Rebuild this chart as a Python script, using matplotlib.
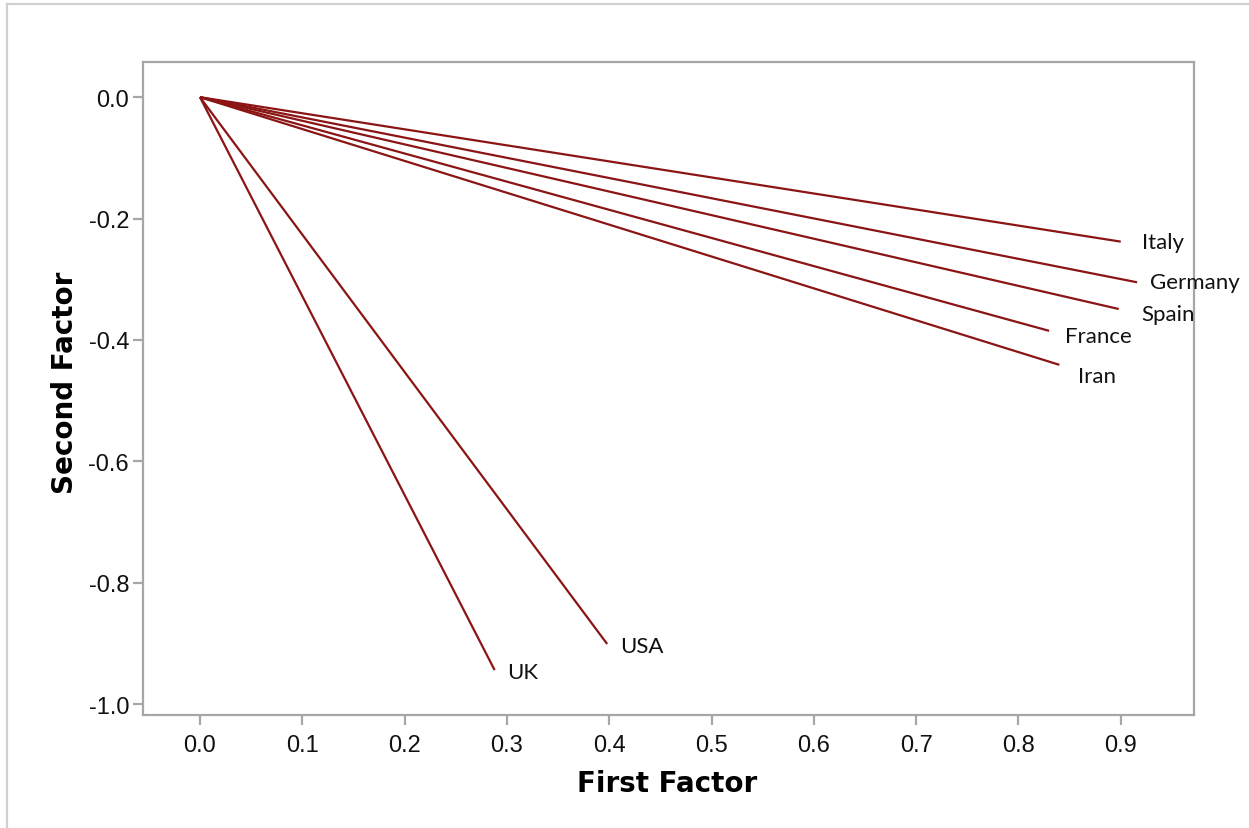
import matplotlib
matplotlib.use("Agg")
import matplotlib.pyplot as plt
from matplotlib.lines import Line2D

countries = ["Italy", "Germany", "Spain", "France", "Iran", "USA", "UK"]
first_factor = [0.900, 0.916, 0.898, 0.830, 0.840, 0.398, 0.288]
second_factor = [-0.238, -0.305, -0.349, -0.385, -0.441, -0.901, -0.944]
x_ticks = [0.0, 0.1, 0.2, 0.3, 0.4, 0.5, 0.6, 0.7, 0.8, 0.9]
y_ticks = [0.0, -0.2, -0.4, -0.6, -0.8, -1.0]

# label offsets in pixels (style)
label_offsets = {"Italy": (21, 0), "Germany": (13, 0), "Spain": (23, -5),
                 "France": (16, -5), "Iran": (19, -11), "USA": (13, -2), "UK": (12, -2)}

fig = plt.figure(figsize=(12.49, 8.29), dpi=100)
ax = fig.add_axes([143/1249, 1-716/829, (1194-143)/1249, (716-63)/829])

line_color = "#8B1515"
for name, x, y in zip(countries, first_factor, second_factor):
    ax.plot([0, x], [0, y], color=line_color, lw=1.6, solid_capstyle="butt")
    dx, dy = label_offsets[name]
    ax.annotate(name, (x, y), xytext=(dx, dy), textcoords="offset pixels",
                ha="left", va="center", fontsize=16, family="Lato", color="#111111")

ax.set_xlim(-0.0557, 0.9716)
ax.set_ylim(-1.018, 0.058)
ax.set_xticks(x_ticks)
ax.set_xticklabels([f"{v:.1f}" for v in x_ticks])
ax.set_yticks(y_ticks)
ax.set_yticklabels([f"{v:.1f}" for v in y_ticks])

for s in ax.spines.values():
    s.set_color("#a6a6a6")
    s.set_linewidth(1.6)
ax.tick_params(axis="both", color="#a6a6a6", width=1.6, length=7,
               labelsize=17, labelcolor="#111111")
ax.tick_params(axis="y", pad=3)
ax.tick_params(axis="x", pad=7)
for lab in ax.get_xticklabels() + ax.get_yticklabels():
    lab.set_family("Liberation Sans")

ax.set_xlabel("First Factor", fontsize=20, fontweight="bold", family="DejaVu Sans")
ax.set_ylabel("Second Factor", fontsize=20, fontweight="bold", family="DejaVu Sans")
ax.xaxis.set_label_coords((667 - 143) / 1051, (716 - 784) / 653)
ax.yaxis.set_label_coords((65 - 143) / 1051, (716 - 383) / 653)
ax.xaxis.label.set_va("center")
ax.yaxis.label.set_va("center")

# outer border (left and top visible)
fig.add_artist(Line2D([7/1249, 7/1249], [0, 1-5/829], transform=fig.transFigure,
                      color="#d0d0d0", lw=1.6))
fig.add_artist(Line2D([7/1249, 1], [1-5/829, 1-5/829], transform=fig.transFigure,
                      color="#d0d0d0", lw=1.6))

fig.savefig("out.png", dpi=100)
